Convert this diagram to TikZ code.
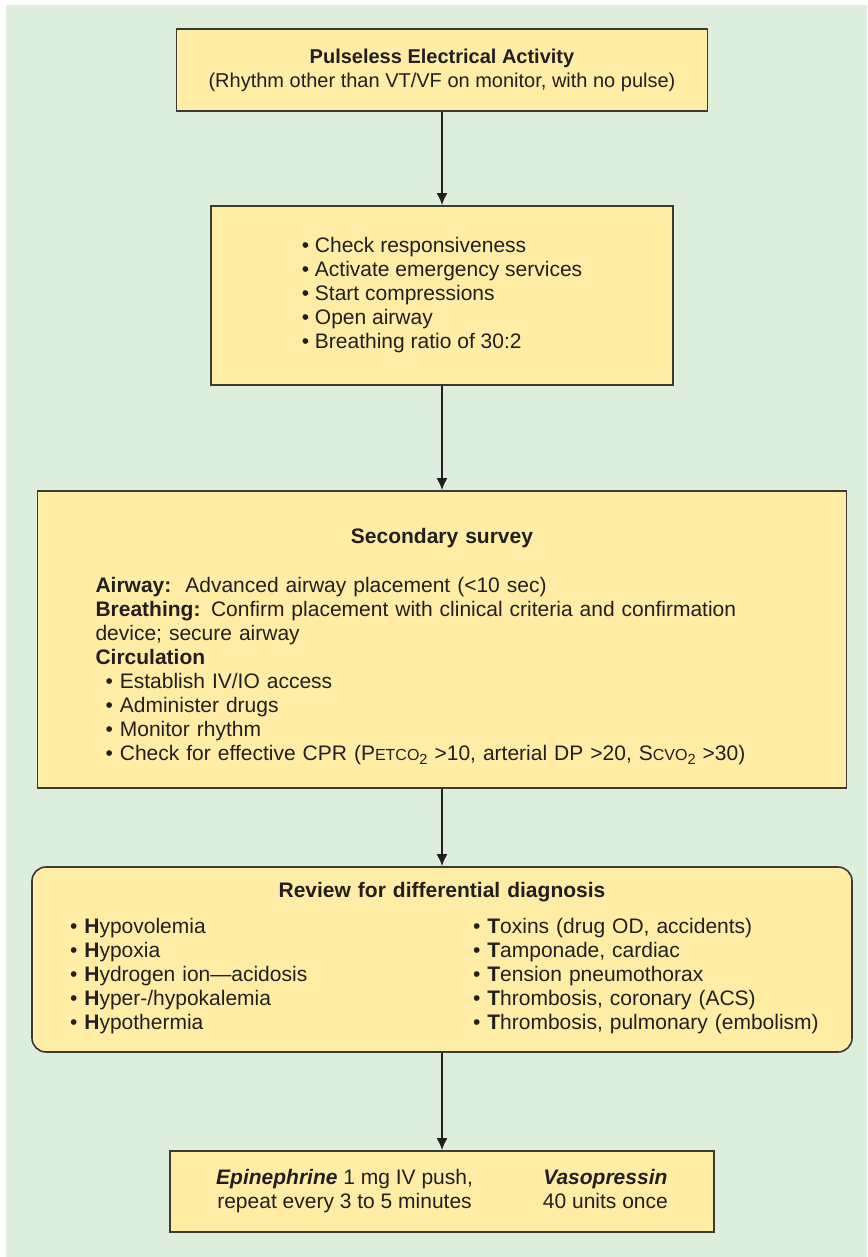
\documentclass[tikz,border=0pt]{standalone}
\usepackage{fontspec}
\setmainfont{Liberation Sans}
\usepackage{tikz}
\usetikzlibrary{arrows.meta,positioning}
\definecolor{Ink}{HTML}{231F20}
\definecolor{Frame}{HTML}{3D3935}
\definecolor{Mint}{HTML}{DEEEDC}
\definecolor{Butter}{HTML}{FFEDA6}
\newcommand{\smcap}[1]{{\fontsize{8}{9}\selectfont #1}}
\newcommand{\lowtwo}{\raisebox{-0.35ex}{\fontsize{7.3}{8}\selectfont 2}}
\tikzset{
  card/.style={draw=Frame,line width=0.8pt,fill=Butter,text=Ink,font=\fontsize{10.5}{12}\selectfont,inner sep=0pt},
  cardround/.style={card,rounded corners=7pt},
  arrow/.style={-{Latex[length=6pt,width=5.5pt]},line width=1pt,draw=Ink}
}

\begin{document}
\begin{tikzpicture}[x=0.5pt,y=-0.5pt]
\useasboundingbox (0,0) rectangle (867,1257);
\fill[Mint] (6,5) rectangle (867,1257);
% boxes, top to bottom
\node[card,font=\fontsize{10}{12}\selectfont,minimum width=265.5pt,minimum height=41pt,align=center] (pea) at (442,70)
  {\textbf{Pulseless Electrical Activity}\\(Rhythm other than VT/VF on monitor, with no pulse)};
\node[card,minimum width=231pt,minimum height=89.5pt,align=left] (bls) at (442,295.5)
  {\textbullet{} Check responsiveness\\
   \textbullet{} Activate emergency services\\
   \textbullet{} Start compressions\\
   \textbullet{} Open airway\\
   \textbullet{} Breathing ratio of 30:2};
\node[card,minimum width=404.5pt,minimum height=148.5pt,text width=346.5pt,align=left] (sec) at (442,639.5)
  {\makebox[346.5pt]{\rule{0pt}{15pt}\textbf{Secondary survey}}\\[12.5pt]
   \textbf{Airway:}\ \ Advanced airway placement (<10 sec)\\
   \textbf{Breathing:} Confirm placement with clinical criteria and confirmation\\
   device; secure airway\\
   \textbf{Circulation}\\
   \hspace*{5pt}\textbullet{} Establish IV/IO access\\
   \hspace*{5pt}\textbullet{} Administer drugs\\
   \hspace*{5pt}\textbullet{} Monitor rhythm\\
   \hspace*{5pt}\textbullet{} Check for effective CPR (P\smcap{ETCO}\lowtwo{} >10, arterial DP >20, S\smcap{CVO}\lowtwo{} >30)};
\node[cardround,minimum width=410pt,minimum height=92.5pt,text width=372pt,align=left] (ddx) at (442,959.5)
  {\makebox[372pt]{\textbf{Review for differential diagnosis}}\\[6.5pt]
   \begin{tabular}{@{}p{201.5pt}@{}l@{}}
   \textbullet{} \textbf{H}ypovolemia & \textbullet{} \textbf{T}oxins (drug OD, accidents)\\
   \textbullet{} \textbf{H}ypoxia & \textbullet{} \textbf{T}amponade, cardiac\\
   \textbullet{} \textbf{H}ydrogen ion—acidosis & \textbullet{} \textbf{T}ension pneumothorax\\
   \textbullet{} \textbf{H}yper-/hypokalemia & \textbullet{} \textbf{T}hrombosis, coronary (ACS)\\
   \textbullet{} \textbf{H}ypothermia & \textbullet{} \textbf{T}hrombosis, pulmonary (embolism)
   \end{tabular}};
\node[card,minimum width=272pt,minimum height=40.5pt] (drug) at (442,1191.5)
  {\begin{tabular}{@{}c@{\hspace{35pt}}c@{}}
   \textbf{\textit{Epinephrine}} 1 mg IV push, & \textbf{\textit{Vasopressin}}\\
   repeat every 3 to 5 minutes & 40 units once
   \end{tabular}};
% connectors
\draw[arrow] (pea) -- (bls);
\draw[arrow] (bls) -- (sec);
\draw[arrow] (sec) -- (ddx);
\draw[arrow] (ddx) -- (drug);
\end{tikzpicture}
\end{document}
